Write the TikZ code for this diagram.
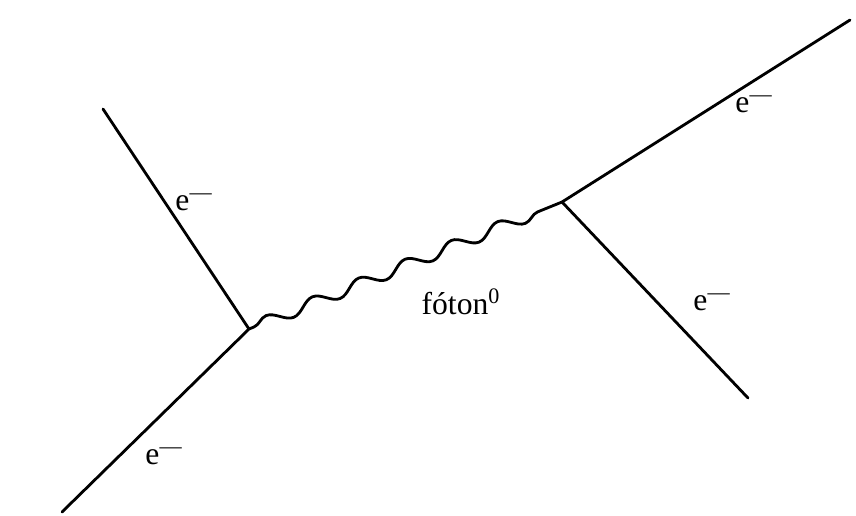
\documentclass[tikz,border=0pt]{standalone}
\usepackage{fontspec}
\setmainfont{Liberation Serif}
\usetikzlibrary{decorations.pathmorphing}

\begin{document}
\begin{tikzpicture}[x=.02cm,y=-.02cm,line width=1.6pt,font=\fontsize{18}{20}\selectfont]
\tikzset{
  fermion/.style={draw,line cap=round},
  photon/.style={draw,decorate,decoration={snake,segment length=1cm,amplitude=.12cm,pre length=3pt,post length=3pt}},
  lbl/.style={inner sep=1pt}
}
\useasboundingbox (0,0) rectangle (856,515);
\coordinate (in1) at (103,109);
\coordinate (in2) at (62,512);
\coordinate (v1) at (249,329);
\coordinate (v2) at (562,202);
\coordinate (out1) at (850,20);
\coordinate (out2) at (748,398);
\draw[fermion] (in1) -- (v1) -- (in2);
\draw[fermion] (out1) -- (v2) -- (out2);
\draw[photon] (v1) -- (v2);
\node[lbl] (e1) at (194,202) {e\textsuperscript{\textemdash}};
\node[lbl] (e2) at (164,456) {e\textsuperscript{\textemdash}};
\node[lbl] (e3) at (754,104) {e\textsuperscript{\textemdash}};
\node[lbl] (e4) at (712,302) {e\textsuperscript{\textemdash}};
\node[lbl] (ph) at (461,302) {fóton\textsuperscript{0}};
\end{tikzpicture}
\end{document}
